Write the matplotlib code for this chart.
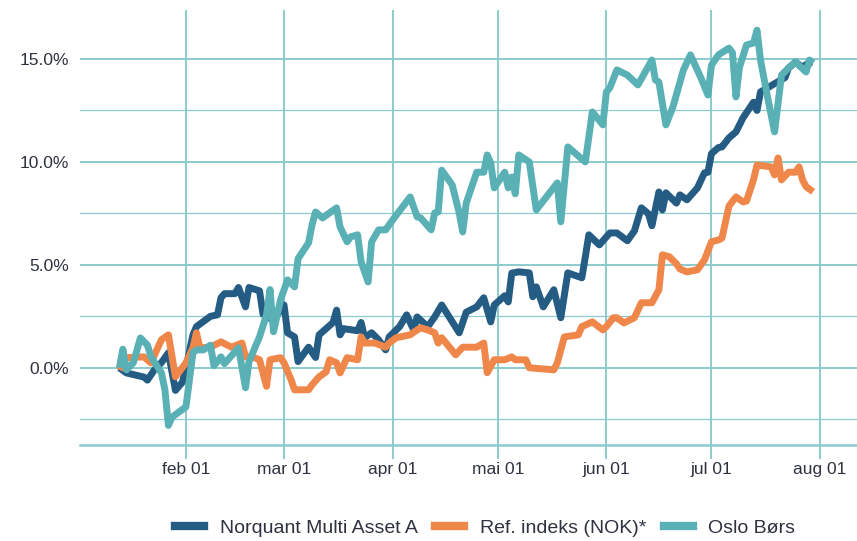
import matplotlib.pyplot as plt
import pandas as pd
from matplotlib.lines import Line2D

# Data (cumulative return in %, 2021)
fund_dates = ["2021-01-13", "2021-01-15", "2021-01-20", "2021-01-21", "2021-01-23", "2021-01-25",
              "2021-01-27", "2021-01-29", "2021-01-31", "2021-02-01", "2021-02-03", "2021-02-04",
              "2021-02-08", "2021-02-10", "2021-02-11", "2021-02-12", "2021-02-15", "2021-02-16",
              "2021-02-18", "2021-02-19", "2021-02-22", "2021-02-23", "2021-02-26", "2021-03-01",
              "2021-03-02", "2021-03-04", "2021-03-05", "2021-03-08", "2021-03-10", "2021-03-11",
              "2021-03-15", "2021-03-16", "2021-03-17", "2021-03-18", "2021-03-22", "2021-03-23",
              "2021-03-24", "2021-03-26", "2021-03-28", "2021-03-30", "2021-03-31", "2021-04-03",
              "2021-04-05", "2021-04-07", "2021-04-08", "2021-04-11", "2021-04-13", "2021-04-15",
              "2021-04-20", "2021-04-22", "2021-04-25", "2021-04-27", "2021-04-29", "2021-04-30",
              "2021-05-03", "2021-05-04", "2021-05-05", "2021-05-07", "2021-05-10", "2021-05-11",
              "2021-05-12", "2021-05-14", "2021-05-17", "2021-05-19", "2021-05-21", "2021-05-25",
              "2021-05-26", "2021-05-27", "2021-05-30", "2021-06-02", "2021-06-04", "2021-06-07",
              "2021-06-09", "2021-06-11", "2021-06-13", "2021-06-14", "2021-06-16", "2021-06-17",
              "2021-06-18", "2021-06-21", "2021-06-22", "2021-06-24", "2021-06-27", "2021-06-29",
              "2021-06-30", "2021-07-01", "2021-07-03", "2021-07-04", "2021-07-06", "2021-07-08",
              "2021-07-10", "2021-07-13", "2021-07-14", "2021-07-15", "2021-07-18", "2021-07-22",
              "2021-07-23", "2021-07-25", "2021-07-27", "2021-07-29", "2021-07-30"]
fund_values = [0.0, -0.25, -0.45, -0.6, -0.1, 0.25,
               0.73, -1.1, -0.7, 0.0, 1.6, 2.0,
               2.5, 2.57, 3.4, 3.6, 3.6, 3.9,
               2.96, 3.9, 3.74, 2.6, 2.3, 3.05,
               1.7, 1.5, 0.3, 1.0, 0.5, 1.6,
               2.2, 2.8, 1.6, 1.9, 1.8, 2.2,
               1.46, 1.7, 1.36, 0.87, 1.5, 2.0,
               2.57, 1.84, 2.47, 1.99, 2.47, 3.05,
               1.7, 2.7, 2.96, 3.4, 2.23, 3.05,
               3.5, 3.2, 4.6, 4.66, 4.61, 3.45,
               3.93, 2.96, 3.79, 2.43, 4.61, 4.37,
               5.39, 6.46, 5.97, 6.55, 6.55, 6.17,
               6.65, 7.77, 7.48, 6.9, 8.54, 7.67,
               8.5, 8.0, 8.4, 8.16, 8.74, 9.47,
               9.5, 10.4, 10.7, 10.73, 11.17, 11.46,
               12.14, 12.9, 12.5, 13.4, 13.7, 14.1,
               14.56, 14.85, 14.6, 14.85, 14.8]

ref_dates = ["2021-01-13", "2021-01-15", "2021-01-20", "2021-01-22", "2021-01-25", "2021-01-27",
             "2021-01-29", "2021-02-01", "2021-02-03", "2021-02-04", "2021-02-05", "2021-02-08",
             "2021-02-11", "2021-02-14", "2021-02-17", "2021-02-18", "2021-02-20", "2021-02-22",
             "2021-02-24", "2021-02-25", "2021-02-28", "2021-03-01", "2021-03-03", "2021-03-04",
             "2021-03-08", "2021-03-09", "2021-03-11", "2021-03-13", "2021-03-14", "2021-03-16",
             "2021-03-17", "2021-03-19", "2021-03-22", "2021-03-23", "2021-03-24", "2021-03-27",
             "2021-03-30", "2021-03-31", "2021-04-02", "2021-04-06", "2021-04-08", "2021-04-09",
             "2021-04-11", "2021-04-13", "2021-04-14", "2021-04-15", "2021-04-19", "2021-04-21",
             "2021-04-25", "2021-04-27", "2021-04-28", "2021-04-30", "2021-05-03", "2021-05-05",
             "2021-05-06", "2021-05-09", "2021-05-10", "2021-05-17", "2021-05-18", "2021-05-20",
             "2021-05-24", "2021-05-25", "2021-05-28", "2021-05-31", "2021-06-01", "2021-06-03",
             "2021-06-04", "2021-06-06", "2021-06-09", "2021-06-11", "2021-06-14", "2021-06-16",
             "2021-06-17", "2021-06-19", "2021-06-21", "2021-06-22", "2021-06-24", "2021-06-27",
             "2021-06-29", "2021-07-01", "2021-07-03", "2021-07-04", "2021-07-06", "2021-07-08",
             "2021-07-10", "2021-07-11", "2021-07-13", "2021-07-14", "2021-07-18", "2021-07-19",
             "2021-07-20", "2021-07-21", "2021-07-23", "2021-07-25", "2021-07-26", "2021-07-27",
             "2021-07-28", "2021-07-30"]
ref_values = [-0.1, 0.49, 0.53, 0.24, 1.36, 1.6,
              -0.44, 0.24, 0.97, 1.7, 0.97, 1.0,
              1.26, 1.0, 1.2, 0.53, 0.53, 0.39,
              -0.9, 0.39, 0.49, 0.24, -0.58, -1.07,
              -1.07, -0.83, -0.44, -0.2, 0.39, 0.24,
              -0.25, 0.49, 0.39, 1.5, 1.2, 1.2,
              1.0, 1.2, 1.46, 1.6, 1.84, 1.94,
              1.84, 1.7, 1.2, 1.46, 0.63, 1.0,
              1.0, 1.2, -0.24, 0.39, 0.39, 0.53,
              0.39, 0.39, 0.0, -0.1, 0.24, 1.5,
              1.6, 2.0, 2.23, 1.84, 2.0, 2.43,
              2.43, 2.18, 2.43, 3.16, 3.16, 3.79,
              5.49, 5.39, 5.05, 4.8, 4.66, 4.76,
              5.24, 6.12, 6.21, 6.3, 7.86, 8.3,
              8.06, 8.1, 9.13, 9.85, 9.76, 9.37,
              10.19, 9.13, 9.5, 9.5, 9.76, 9.13,
              8.8, 8.55]

osebx_dates = ["2021-01-13", "2021-01-14", "2021-01-15", "2021-01-17", "2021-01-19", "2021-01-21",
               "2021-01-22", "2021-01-25", "2021-01-26", "2021-01-27", "2021-01-28", "2021-02-01",
               "2021-02-03", "2021-02-04", "2021-02-06", "2021-02-08", "2021-02-09", "2021-02-11",
               "2021-02-12", "2021-02-16", "2021-02-18", "2021-02-19", "2021-02-22", "2021-02-24",
               "2021-02-25", "2021-02-26", "2021-02-28", "2021-03-02", "2021-03-04", "2021-03-05",
               "2021-03-08", "2021-03-09", "2021-03-10", "2021-03-12", "2021-03-16", "2021-03-17",
               "2021-03-19", "2021-03-20", "2021-03-22", "2021-03-23", "2021-03-25", "2021-03-26",
               "2021-03-28", "2021-03-30", "2021-04-01", "2021-04-06", "2021-04-08", "2021-04-09",
               "2021-04-12", "2021-04-13", "2021-04-14", "2021-04-15", "2021-04-18", "2021-04-20",
               "2021-04-21", "2021-04-22", "2021-04-25", "2021-04-27", "2021-04-28", "2021-04-29",
               "2021-04-30", "2021-05-03", "2021-05-04", "2021-05-05", "2021-05-06", "2021-05-07",
               "2021-05-10", "2021-05-12", "2021-05-18", "2021-05-19", "2021-05-21", "2021-05-26",
               "2021-05-28", "2021-05-31", "2021-06-01", "2021-06-02", "2021-06-04", "2021-06-07",
               "2021-06-10", "2021-06-14", "2021-06-15", "2021-06-16", "2021-06-18", "2021-06-20",
               "2021-06-23", "2021-06-25", "2021-06-28", "2021-06-30", "2021-07-01", "2021-07-03",
               "2021-07-06", "2021-07-07", "2021-07-08", "2021-07-09", "2021-07-11", "2021-07-13",
               "2021-07-14", "2021-07-15", "2021-07-17", "2021-07-19", "2021-07-21", "2021-07-23",
               "2021-07-25", "2021-07-28", "2021-07-29", "2021-07-30"]
osebx_values = [0.0, 0.9, -0.1, 0.25, 1.45, 1.1,
                0.55, -0.25, -1.07, -2.8, -2.4, -1.9,
                0.73, 0.87, 0.87, 1.1, 0.1, 0.53,
                0.2, 0.97, -0.97, 0.3, 1.5, 2.57,
                3.8, 1.75, 3.3, 4.27, 3.93, 5.3,
                6.07, 6.95, 7.57, 7.28, 7.77, 6.84,
                6.12, 6.36, 6.46, 5.15, 4.17, 6.12,
                6.7, 6.7, 7.18, 8.3, 7.33, 7.28,
                6.7, 7.52, 7.57, 9.6, 8.88, 7.52,
                6.6, 8.0, 9.5, 9.5, 10.34, 9.95,
                8.74, 9.5, 8.74, 9.27, 8.45, 10.34,
                10.0, 7.67, 8.98, 7.09, 10.73, 10.0,
                12.43, 11.8, 13.4, 13.6, 14.47, 14.22,
                13.74, 14.95, 13.98, 13.88, 11.8, 12.67,
                14.47, 15.2, 14.08, 13.25, 14.7, 15.2,
                15.53, 15.3, 13.16, 14.6, 15.68, 15.78,
                16.4, 14.95, 13.16, 11.46, 14.22, 14.56,
                14.85, 14.37, 14.95, 14.8]

series_names = ["Norquant Multi Asset A", "Ref. indeks (NOK)*", "Oslo Børs"]
colors = ["#255c83", "#f0874a", "#5ab1b5"]

month_ticks = ["2021-02-01", "2021-03-01", "2021-04-01", "2021-05-01",
               "2021-06-01", "2021-07-01", "2021-08-01"]
month_labels = ["feb 01", "mar 01", "apr 01", "mai 01", "jun 01", "jul 01", "aug 01"]
y_major = [0, 5, 10, 15]
y_minor = [-2.5, 2.5, 7.5, 12.5]

grid_col = "#8ccbcd"
text_col = "#2e3140"

plt.rcParams['font.family'] = ['Liberation Sans', 'DejaVu Sans']

fig = plt.figure(figsize=(8.57, 5.41), dpi=100)
ax = fig.add_axes([0.0933, 0.1775, 0.9067, 0.804])

all_dates = [fund_dates, ref_dates, osebx_dates]
all_values = [fund_values, ref_values, osebx_values]
for d, v, c in zip(all_dates, all_values, colors):
    ax.plot(pd.to_datetime(d), v, color=c, linewidth=5.0, solid_joinstyle='round',
            solid_capstyle='butt', zorder=3)

ax.set_xlim(pd.Timestamp("2021-01-01 18:00"), pd.Timestamp("2021-08-11 13:00"))
ax.set_ylim(-3.75, 17.38)

ax.set_xticks(pd.to_datetime(month_ticks))
ax.set_xticklabels(month_labels)
ax.set_yticks(y_major)
ax.set_yticklabels([f"{v:.1f}%" for v in y_major])
ax.set_yticks(y_minor, minor=True)

ax.grid(True, which='major', color=grid_col, linewidth=1.4, zorder=0)
ax.grid(True, which='minor', axis='y', color=grid_col, linewidth=0.9, zorder=0)

for s in ['top', 'right', 'left']:
    ax.spines[s].set_visible(False)
ax.spines['bottom'].set_color(grid_col)
ax.spines['bottom'].set_linewidth(1.8)

ax.tick_params(axis='x', length=10, width=1.4, color=grid_col, pad=2,
               labelsize=12.5, labelcolor=text_col)
ax.tick_params(axis='y', which='both', length=0, pad=8, labelsize=12.5, labelcolor=text_col)

handles = [Line2D([0], [0], color=c, linewidth=6) for c in colors]
fig.legend(handles, series_names, loc='center', bbox_to_anchor=(0.566, 0.024),
           ncol=3, frameon=False, fontsize=14, handlelength=1.5, handletextpad=0.8,
           columnspacing=0.9, labelcolor=text_col)

fig.savefig("out.png", dpi=100)
